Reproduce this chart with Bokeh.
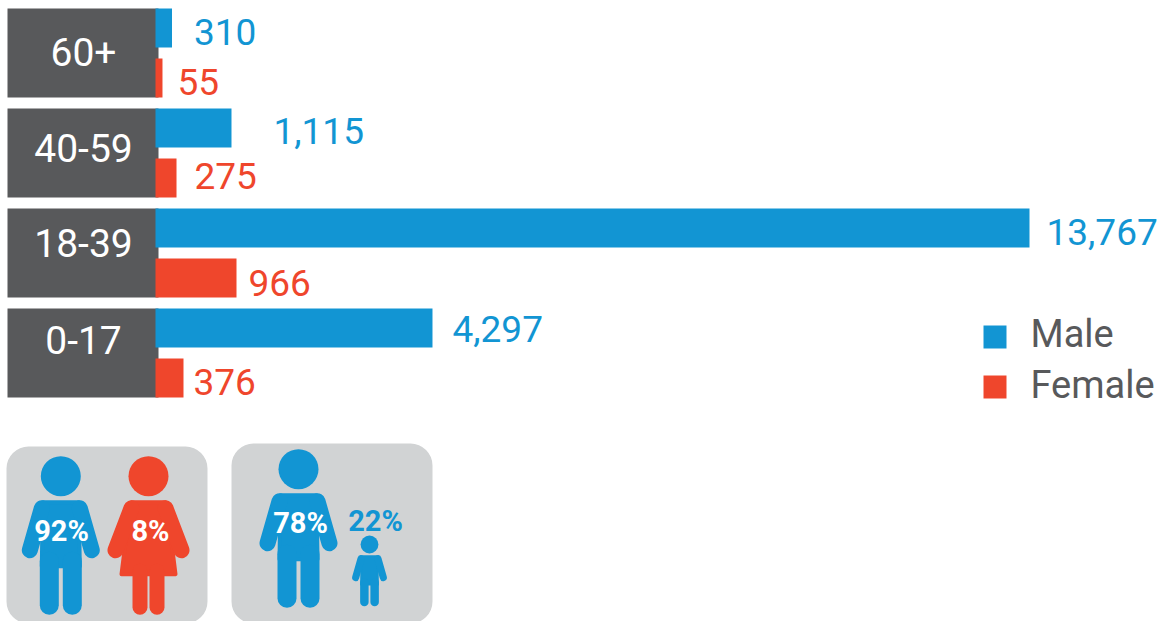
from bokeh.plotting import figure
from bokeh.models import Range1d, ColumnDataSource
from bokeh.core.properties import value
from bokeh.embed import file_html
from bokeh.resources import INLINE

# ---- data ----
age_groups = ["60+", "40-59", "18-39", "0-17"]
male_labels = ["310", "1,115", "13,767", "4,297"]
female_labels = ["55", "275", "966", "376"]
# bar lengths, on the scale where the longest bar is 13,767
male_bars = [260, 1197, 13767, 4363]
female_bars = [110, 331, 1276, 441]
legend_names = ["Male", "Female"]
gender_shares = ["92%", "8%"]
age_shares = ["78%", "22%"]

# ---- style / layout ----
BLUE, RED, DARK, PANEL = "#1295d3", "#ef462c", "#58595b", "#d1d3d4"
FONT = value("Roboto")
W, H = 1162, 621
X0, Y0 = 0, 0
ZERO_X, FULL_X = 155, 1029
K = male_bars[2] / (FULL_X - ZERO_X)
ROW_TOP, ROW_STEP, BAR_H, ROW_H = 8, 100, 39, 89
male_gap = [22, 42, 17, 20]
female_gap = [15, 18, 12, 10]
male_mid = [31, 130, 231, 328]
female_mid = [81, 175, 282, 381]
group_mid = [51, 147, 242, 339]

p = figure(width=W, height=H, output_backend="svg", toolbar_location=None,
           x_range=Range1d(X0, X0 + W), y_range=Range1d(Y0 + H, Y0),
           min_border=0, outline_line_color=None, background_fill_color="white",
           border_fill_color="white")
p.axis.visible = False
p.grid.visible = False
p.extra_x_ranges["val"] = Range1d((X0 - ZERO_X) * K, (X0 + W - ZERO_X) * K)

rows = list(range(len(age_groups)))
tops = [ROW_TOP + i * ROW_STEP for i in rows]

# category boxes
p.quad(left=7, right=158, top=tops, bottom=[t + ROW_H for t in tops], fill_color=DARK, line_color=None)
p.text(x=[83] * 4, y=group_mid, text=age_groups, text_color="white",
       text_font=FONT, text_font_size="39px", text_align="center", text_baseline="middle")

# bars
p.hbar(y=[t + BAR_H / 2 for t in tops], height=BAR_H, left=0, right=male_bars,
       x_range_name="val", fill_color=BLUE, line_color=None)
p.hbar(y=[t + ROW_H - BAR_H / 2 for t in tops], height=BAR_H, left=0, right=female_bars,
       x_range_name="val", fill_color=RED, line_color=None)

# value labels
p.text(x="x", y="y", text="t", x_offset="o", x_range_name="val", text_color=BLUE, text_font=FONT,
       text_font_size="37px", text_baseline="middle",
       source=ColumnDataSource(dict(x=male_bars, y=male_mid, t=male_labels, o=male_gap)))
p.text(x="x", y="y", text="t", x_offset="o", x_range_name="val", text_color=RED, text_font=FONT,
       text_font_size="37px", text_baseline="middle",
       source=ColumnDataSource(dict(x=female_bars, y=female_mid, t=female_labels, o=female_gap)))

# legend
p.quad(left=[983, 983], right=[1006, 1006], top=[325, 375], bottom=[348, 398],
       fill_color=[BLUE, RED], line_color=None)
p.text(x=[1030, 1030], y=[333, 384], text=legend_names, text_color=DARK, text_font=FONT,
       text_font_size="38px", text_baseline="middle")

# panels
p.quad(left=[6, 231], right=[207, 432], top=[446, 443], bottom=[623, 623],
       fill_color=PANEL, line_color=None, border_radius=22)


def person(cx, head_y, s, color, dress=False):
    """Pictogram; geometry is relative to the head centre, s = scale."""
    X = lambda d: cx + d * s
    Y = lambda d: head_y + d * s
    p.circle(x=[cx], y=[head_y], radius=20 * s, fill_color=color, line_color=None)
    if dress:
        body = [(-17, 26), (17, 26), (23, 66), (27, 98), (-27, 98), (-23, 66)]
        legs = [(-8.5, 15), (8.5, 15)]
        arms = [(-17, 32, -33, 74), (17, 32, 33, 74)]
        leg_top, leg_end = 95, 131
    else:
        body = [(-18, 26), (18, 26), (19, 90), (-19, 90)]
        legs = [(-11.5, 19), (11.5, 19)]
        arms = [(-19, 32, -31, 74), (19, 32, 31, 74)]
        leg_top, leg_end = 85, 129
    p.patch([X(a) for a, _ in body], [Y(b) for _, b in body], fill_color=color, line_color=color,
            line_width=4 * s, line_join="round")
    for x1, y1, x2, y2 in arms:
        p.line([X(x1), X(x2)], [Y(y1), Y(y2)], line_color=color, line_width=16 * s, line_cap="round")
    for dx, w in legs:
        p.line([X(dx), X(dx)], [Y(leg_top), Y(leg_end)], line_color=color, line_width=w * s, line_cap="round")


person(60.3, 475.7, 1, BLUE)
person(148, 475.7, 1, RED, dress=True)
person(298, 468.7, 1, BLUE)
person(369, 544, 0.446, BLUE)

p.text(x=[61, 150, 300], y=[530, 530, 522], text=[gender_shares[0], gender_shares[1], age_shares[0]],
       text_color="white", text_font=FONT, text_font_style="bold", text_font_size="29px",
       text_align="center", text_baseline="middle")
p.text(x=[375], y=[520], text=[age_shares[1]], text_color=BLUE, text_font=FONT, text_font_style="bold",
       text_font_size="29px", text_align="center", text_baseline="middle")

open("out.html", "w").write(file_html(p, INLINE))
